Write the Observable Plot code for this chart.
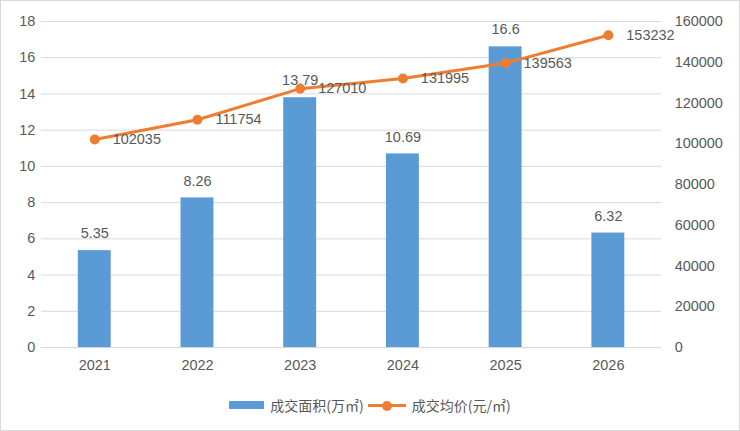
<!DOCTYPE html>
<html><head><meta charset="utf-8">
<script src="https://cdn.jsdelivr.net/npm/d3@7"></script>
<script src="https://cdn.jsdelivr.net/npm/@observablehq/plot@0.6"></script>
<style>
body{margin:0;background:#fff;}
#wrap{width:740px;height:431px;box-sizing:border-box;border:1px solid #d9d9d9;position:relative;overflow:hidden;background:#fff;}
#legend{position:absolute;left:0;top:394px;width:738px;display:flex;justify-content:center;align-items:center;font-family:"Noto Sans CJK SC",sans-serif;font-size:14px;color:#595959;}
.sw{display:inline-block;width:35px;height:8px;background:#5b9bd5;margin-right:6px;}
.ln{display:inline-block;position:relative;width:38px;height:14px;margin:0 6px 0 4px;}
.ln:before{content:"";position:absolute;left:0;right:0;top:6px;height:3px;background:#ed7d31;}
.ln:after{content:"";position:absolute;left:14px;top:2.5px;width:10px;height:10px;border-radius:50%;background:#ed7d31;}
</style></head>
<body><div id="wrap"><div id="chart"></div>
<div id="legend"><span class="sw"></span><span>成交面积(万㎡)</span><span class="ln"></span><span>成交均价(元/㎡)</span></div></div>
<script>
const years = ["2021","2022","2023","2024","2025","2026"];
const area = [5.35, 8.26, 13.79, 10.69, 16.6, 6.32];
const price = [102035, 111754, 127010, 131995, 139563, 153232];
const leftTicks = [0,2,4,6,8,10,12,14,16,18];
const rightTicks = [0,20000,40000,60000,80000,100000,120000,140000,160000];

const LMAX = 18, RMAX = 160000;
const toL = v => v * LMAX / RMAX;
const data = years.map((y,i) => ({year:y, area:area[i], price:price[i], py:toL(price[i])}));

const chart = Plot.plot({
  width: 740, height: 385,
  marginLeft: 40, marginRight: 78, marginTop: 20, marginBottom: 38,
  style: {fontFamily: "'Liberation Sans', sans-serif", fontSize: "14px", color: "#595959", background: "transparent"},
  x: {domain: years, paddingInner: 0.68, paddingOuter: 0.34, label: null},
  y: {domain: [0, LMAX], label: null},
  marks: [
    Plot.gridY(leftTicks, {stroke: "#d9d9d9", strokeOpacity: 1}),
    Plot.axisY(leftTicks, {anchor: "left", tickSize: 0, tickPadding: 6, label: null, fontSize: 14.5}),
    Plot.axisY(rightTicks.map(toL), {anchor: "right", tickSize: 0, tickPadding: 13, label: null, fontSize: 14.5, textAnchor: "start",
      tickFormat: d => String(Math.round(d * RMAX / LMAX))}),
    Plot.axisX({tickSize: 0, tickPadding: 12, label: null, fontSize: 14.5}),
    Plot.barY(data, {x: "year", y: "area", fill: "#5b9bd5"}),
    Plot.text(data, {x: "year", y: "area", text: d => String(d.area), dy: -17, fontSize: 14.5, fill: "#595959"}),
    Plot.line(data, {x: "year", y: "py", stroke: "#ed7d31", strokeWidth: 3}),
    Plot.dot(data, {x: "year", y: "py", r: 5, fill: "#ed7d31"}),
    Plot.text(data, {x: "year", y: "py", text: d => String(d.price), dx: 18, textAnchor: "start", fontSize: 14.5, fill: "#595959"})
  ]
});
document.getElementById("chart").appendChild(chart);
</script></body></html>
